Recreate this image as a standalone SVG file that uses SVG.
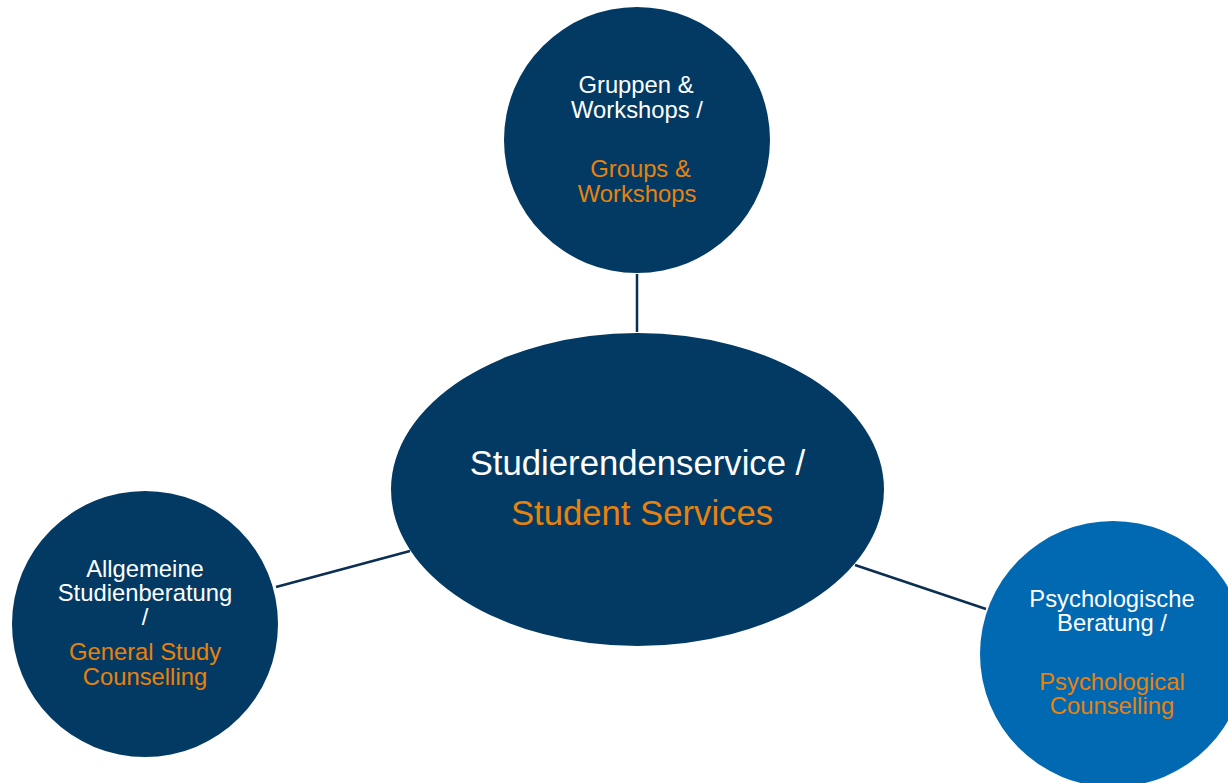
<svg xmlns="http://www.w3.org/2000/svg" width="1228" height="783" viewBox="0 0 1228 783">
<style>
.navy{fill:#033A63}
.blue{fill:#0168B2}
.t{font-family:"Liberation Sans",Arial,sans-serif;font-size:23.8px;text-anchor:middle}
.big{font-size:34.7px}
.w{fill:#FFFFFF}
.o{fill:#E8820C}
.conn{stroke:#0B2F52;stroke-width:2.5;fill:none}
</style>
<rect width="1228" height="783" fill="#FFFFFF"/>
<g id="connectors">
<line class="conn" x1="637" y1="274" x2="637" y2="332"/>
<line class="conn" x1="276" y1="587" x2="410" y2="551"/>
<line class="conn" x1="855" y1="565" x2="986" y2="609"/>
</g>
<g id="node-center">
<ellipse class="navy" cx="637.5" cy="489.5" rx="246.5" ry="156.5"/>
<text class="t big w" x="637.5" y="475">Studierendenservice /</text>
<text class="t big o" x="642" y="525">Student Services</text>
</g>
<g id="node-groups">
<circle class="navy" cx="637" cy="140" r="133"/>
<text class="t w" x="636" y="93">Gruppen &amp;</text>
<text class="t w" x="637" y="118">Workshops /</text>
<text class="t o" x="640.5" y="177">Groups &amp;</text>
<text class="t o" x="637" y="202">Workshops</text>
</g>
<g id="node-general">
<circle class="navy" cx="145" cy="624" r="133"/>
<text class="t w" x="145" y="577">Allgemeine</text>
<text class="t w" x="145" y="601">Studienberatung</text>
<text class="t w" x="145" y="625">/</text>
<text class="t o" x="145" y="660">General Study</text>
<text class="t o" x="145" y="685">Counselling</text>
</g>
<g id="node-psych">
<circle class="blue" cx="1113" cy="654" r="133"/>
<text class="t w" x="1112" y="607">Psychologische</text>
<text class="t w" x="1112" y="631">Beratung /</text>
<text class="t o" x="1112" y="690">Psychological</text>
<text class="t o" x="1112" y="714">Counselling</text>
</g>
</svg>
